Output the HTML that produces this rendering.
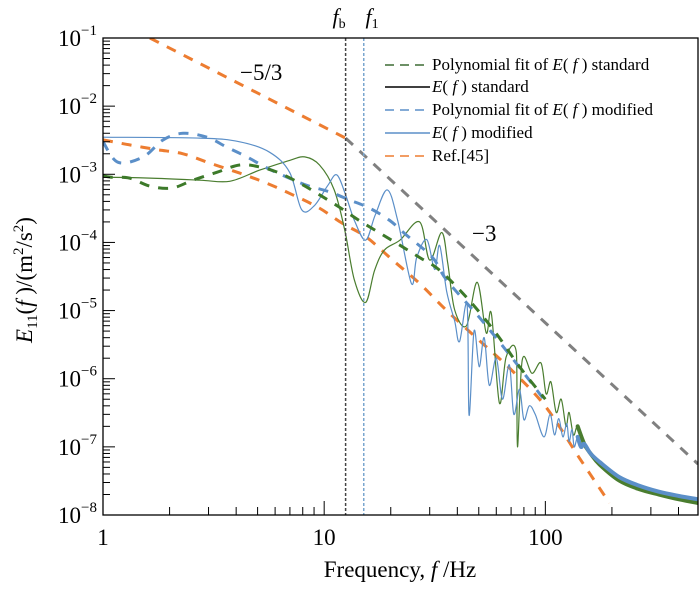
<!DOCTYPE html>
<html><head><meta charset="utf-8"><style>
html,body{margin:0;padding:0;background:#fff;}
svg, svg text{font-family:"Liberation Serif","Times New Roman",serif;}
</style></head><body>
<svg id="chart" width="700" height="585" viewBox="0 0 700 585" font-family="Liberation Serif, serif"></svg>
<script>
const xDomain = [1, 490];
const yDecades = [-1, -8];
const xTickMajor = [1, 10, 100];
const xTickLabels = ["1", "10", "100"];
const yTickExp = [-1, -2, -3, -4, -5, -6, -7, -8];
const vLinesF = [12.5, 15.1];

const modF = [1,2.74,4.15,5.67,6.98,7.92,9.05,10.4,11.4,12.5,13.7,15.4,17.0,19.3,21.5,24.8,26.2,29.1,31.6,33.3,35.8,38.9,40.9,44.3,45.2,47.6,50.2,52.9,55.8,60,64,68.7,72,76.4,80,84.6,90,98.6,105,110,115,120,125,128,132,135,140,145,150,160,176,216,265,326,402,490];
const modE = [3.5e-3,3.4e-3,3.0e-3,2.1e-3,1.07e-3,3.0e-4,3.5e-4,6.9e-4,9.8e-4,5.0e-4,2.1e-4,1.08e-4,2.5e-4,5.9e-4,2.1e-4,2.5e-5,6.0e-5,1.1e-4,4.0e-5,9e-5,1.9e-5,7e-6,3.5e-6,1.2e-5,2.9e-7,5e-6,1.5e-6,4e-6,8e-7,2e-6,5e-7,1.6e-6,3e-7,7e-7,2.5e-7,4e-7,3e-7,1.4e-7,3e-7,1.5e-7,2.6e-7,1.4e-7,2.2e-7,1.2e-7,1.8e-7,1.0e-7,1.4e-7,1.0e-7,1.1e-7,8e-8,6e-8,3.6e-8,2.7e-8,2.2e-8,1.9e-8,1.7e-8];
const stdF = [1,1.63,2.74,3.74,5.11,6.98,8.17,9.53,11.1,12.4,13.7,15.4,16.9,18.7,22,27,30,34,36.2,38.9,44,49.2,54,57,62,66.5,74,74.8,78.7,87,95.6,100.8,106,112,118,124,128,134,140,150,160,176,216,265,326,402,490];
const stdE = [9.1e-4,8.8e-4,8.2e-4,7.9e-4,1.15e-3,1.6e-3,1.8e-3,1.37e-3,5.9e-4,1.5e-4,2.8e-5,1.32e-5,3.9e-5,7.7e-5,1.08e-4,2.0e-4,5.5e-5,1.4e-4,5.0e-5,1.02e-5,6e-6,2.6e-5,4.7e-6,9e-6,4.4e-7,2.1e-6,2.4e-6,1.0e-7,1.9e-6,1.2e-6,1.7e-6,6e-7,9e-7,3.2e-7,5e-7,2e-7,3.2e-7,1.5e-7,2e-7,1.1e-7,8e-8,5.5e-8,3.2e-8,2.4e-8,2.0e-8,1.7e-8,1.5e-8];
const stdFitF = [1,1.08,1.32,1.63,2.05,2.55,3.27,4.15,5.11,6.29,7.76,9.53,11.7,14.4,17.8,22,27,33.3,45.2,60,76.4,100];
const stdFitE = [9.5e-4,9.1e-4,8.8e-4,6.7e-4,6.3e-4,8.2e-4,1.07e-3,1.37e-3,1.28e-3,1.04e-3,7.4e-4,5.0e-4,3.3e-4,2.1e-4,1.38e-4,9.1e-5,6.0e-5,3.9e-5,1.42e-5,4.6e-6,1.5e-6,5e-7];
const modFitF = [1,1.17,1.52,1.87,2.3,2.95,3.63,4.47,5.5,6.78,8.34,10.6,13,16,19.8,23.5,30.9,35.8,50.2,70.9,100.8];
const modFitE = [3.0e-3,1.5e-3,1.8e-3,3.2e-3,4.0e-3,3.5e-3,2.5e-3,1.8e-3,1.24e-3,9.1e-4,6.9e-4,5.5e-4,4.2e-4,3.2e-4,2.1e-4,1.29e-4,6.0e-5,2.8e-5,8e-6,2e-6,4.5e-7];
const refF = [1,1.32,1.75,2.3,3.04,4.15,5.5,7.2,9.5,12.1,15.5,20.4,27,35.8,50,71,100.8,142,195];
const refE = [3.2e-3,2.7e-3,2.3e-3,2.0e-3,1.46e-3,1.04e-3,7.4e-4,5.0e-4,3.2e-4,1.9e-4,1.2e-4,5.5e-5,2.5e-5,1.0e-5,3.7e-6,1.3e-6,3.8e-7,7e-8,1.5e-8];
const slope53F = [1.63, 12.5];
const slope53E = [0.1, 3.4e-3];
const slope3F = [12.5, 490];
const slope3E = [3.4e-3, 5.6e-8];

const L=103, R=698, T=38, B=515;
const X = f => L + (R-L) * Math.log10(f/xDomain[0]) / Math.log10(xDomain[1]/xDomain[0]);
const Y = v => T + (B-T) * (yDecades[0] - Math.log10(v)) / (yDecades[0]-yDecades[1]);
const NS="http://www.w3.org/2000/svg";
const svg=document.getElementById('chart');
function mk(tag, attrs, parent){const e=document.createElementNS(NS,tag);for(const k in attrs)e.setAttribute(k,attrs[k]);(parent||svg).appendChild(e);return e;}
function path(fs, es){return fs.map((f,i)=>(i?'L':'M')+X(f).toFixed(1)+','+Y(es[i]).toFixed(1)).join(' ');}
function smooth(fs, es){
  const p=fs.map((f,i)=>[X(f),Y(es[i])]);
  let d='M'+p[0][0].toFixed(1)+','+p[0][1].toFixed(1);
  for(let i=0;i<p.length-1;i++){
    const p0=p[Math.max(0,i-1)],p1=p[i],p2=p[i+1],p3=p[Math.min(p.length-1,i+2)];
    const c1=[p1[0]+(p2[0]-p0[0])/6,p1[1]+(p2[1]-p0[1])/6];
    const c2=[p2[0]-(p3[0]-p1[0])/6,p2[1]-(p3[1]-p1[1])/6];
    c1[0]=Math.min(Math.max(c1[0],p1[0]),p2[0]);c2[0]=Math.min(Math.max(c2[0],p1[0]),p2[0]);
    d+=' C'+c1.map(v=>v.toFixed(1)).join(',')+' '+c2.map(v=>v.toFixed(1)).join(',')+' '+p2[0].toFixed(1)+','+p2[1].toFixed(1);
  }
  return d;
}

const defs=mk('defs',{});const cp=mk('clipPath',{id:'clip'},defs);mk('rect',{x:L,y:T,width:R-L,height:B-T},cp);
const plot=mk('g',{'clip-path':'url(#clip)'});



function series(fs,es,color,w,dash,name,sm){
  const p=mk('path',{d:sm?smooth(fs,es):path(fs,es),fill:'none',stroke:color,'stroke-width':w,'stroke-dasharray':dash||'none','stroke-linejoin':'round'},plot);
  
  
  return p;
}
function tail(fs,es,color,w,name){
  const idx=fs.map((f,i)=>i).filter(i=>fs[i]>=140);
  const p=mk('path',{d:smooth(idx.map(i=>fs[i]),idx.map(i=>es[i])),fill:'none',stroke:color,'stroke-width':w,'stroke-linecap':'round'},plot);
  
  
}
series(slope53F,slope53E,'#ed7d31',3,'10 9','ref-slope-5-3-line');
series(slope3F,slope3E,'#808080',3,'10 9','slope-3-line');
series(refF,refE,'#ed7d31',3,'10 9','ref-45-line',true);
series(stdF,stdE,'#4a7d2f',1.2,null,'e-standard-line',true);
series(modF,modE,'#5b8fc8',1.2,null,'e-modified-line',true);
tail(stdF,stdE,'#4a7d2f',4,'e-standard-tail');
tail(modF,modE,'#5b8fc8',4,'e-modified-tail');
series(modFitF,modFitE,'#5b8fc8',3,'10 9','poly-fit-modified-line',true);
series(stdFitF,stdFitE,'#3d7a2a',3,'10 9','poly-fit-standard-line',true);

const vcol=['#444','#7aa6cf'];
const vname=['fb-line','f1-line'];
vLinesF.forEach((f,i)=>{
  const l=mk('line',{x1:X(f),x2:X(f),y1:T,y2:B,stroke:vcol[i],'stroke-width':1.5,'stroke-dasharray':'3 2'});
  
  
});

const frame=mk('rect',{x:L,y:T,width:R-L,height:B-T,fill:'none',stroke:'#000','stroke-width':1.3});



for(let d=1; d<=100; d*=10){
  for(let m=1;m<=9;m++){
    const f=d*m; if(f>xDomain[1]) break;
    const len = m===1?14:8;
    const t=mk('line',{x1:X(f),x2:X(f),y1:B,y2:B-len,stroke:'#000','stroke-width':1});
    
    
  }
}
xTickMajor.forEach((f,i)=>{
  const t=mk('text',{x:X(f),y:B+30,'text-anchor':'middle','font-size':23,'font-family':'Liberation Serif, serif'});
  t.textContent=xTickLabels[i];
  
  
});
yTickExp.forEach(e=>{
  const v=Math.pow(10,e);
  const t=mk('line',{x1:L,x2:L+12,y1:Y(v),y2:Y(v),stroke:'#000','stroke-width':1});
  
  
  if(e>yDecades[1]){
    for(let m=2;m<=9;m++){
      const mt=mk('line',{x1:L,x2:L+7,y1:Y(v*m/10),y2:Y(v*m/10),stroke:'#000','stroke-width':1});
      
      
    }
  }
  const lb=mk('text',{x:L-6,y:Y(v)+8,'text-anchor':'end','font-size':23,'font-family':'Liberation Serif, serif'});
  lb.innerHTML='10<tspan font-size="15" dy="-11">−'+(-e)+'</tspan>';
  
  
});
</script>
<svg width="700" height="585" style="position:absolute;left:0;top:0" font-family="Liberation Serif, serif">
  <text x="339" y="24" font-size="22" text-anchor="middle"><tspan font-style="italic">f</tspan><tspan font-size="14" dy="4">b</tspan></text>
  <text x="372" y="24" font-size="22" text-anchor="middle"><tspan font-style="italic">f</tspan><tspan font-size="14" dy="4">1</tspan></text>
  <text x="240" y="80" font-size="23">−5/3</text>
  <text x="472" y="241" font-size="23">−3</text>
  <text x="400" y="577" font-size="23" text-anchor="middle">Frequency, <tspan font-style="italic">f</tspan> /Hz</text>
  <text transform="translate(32,280) rotate(-90)" font-size="23" text-anchor="middle"><tspan font-style="italic">E</tspan><tspan font-size="15" dy="5">11</tspan><tspan dy="-5">(</tspan><tspan font-style="italic">f</tspan> )/(m<tspan font-size="15" dy="-9">2</tspan><tspan dy="9">/s</tspan><tspan font-size="15" dy="-9">2</tspan><tspan dy="9">)</tspan></text>
  <g font-size="17">
    <g>
      <line x1="385" x2="430" y1="65" y2="65" stroke="#3d6b33" stroke-width="1.5" stroke-dasharray="9 6"/>
      <text x="432" y="70">Polynomial fit of <tspan font-style="italic">E</tspan>( <tspan font-style="italic">f</tspan> ) standard</text>
    </g>
    <g>
      <line x1="385" x2="430" y1="87" y2="87" stroke="#000" stroke-width="1.5"/>
      <text x="432" y="92"><tspan font-style="italic">E</tspan>( <tspan font-style="italic">f</tspan> ) standard</text>
    </g>
    <g>
      <line x1="385" x2="430" y1="110" y2="110" stroke="#5b8fc8" stroke-width="1.5" stroke-dasharray="9 6"/>
      <text x="432" y="115">Polynomial fit of <tspan font-style="italic">E</tspan>( <tspan font-style="italic">f</tspan> ) modified</text>
    </g>
    <g>
      <line x1="385" x2="430" y1="133" y2="133" stroke="#5b8fc8" stroke-width="1.5"/>
      <text x="432" y="138"><tspan font-style="italic">E</tspan>( <tspan font-style="italic">f</tspan> )  modified</text>
    </g>
    <g>
      <line x1="385" x2="430" y1="156" y2="156" stroke="#ed7d31" stroke-width="1.5" stroke-dasharray="9 6"/>
      <text x="432" y="161">Ref.[45]</text>
    </g>
  </g>
</svg>
</body></html>
